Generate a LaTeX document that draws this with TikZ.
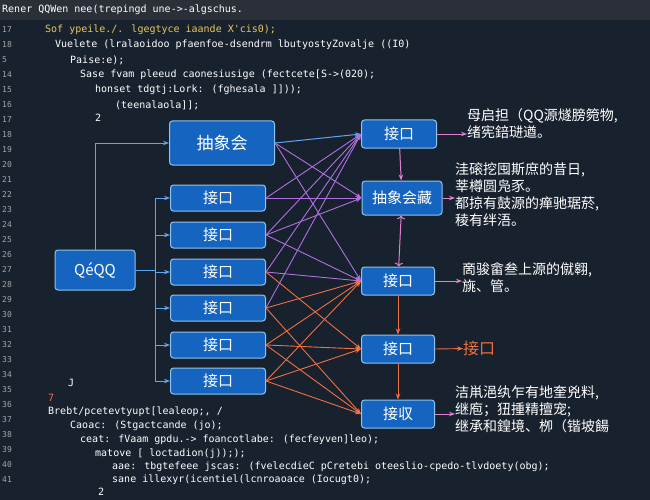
\documentclass[tikz,border=0pt]{standalone}
\usepackage{fontspec}
\setmainfont{Noto Sans CJK SC}
\newfontfamily\cjk{Noto Sans CJK SC}
\newfontfamily\codef{DejaVu Sans Mono}
\usetikzlibrary{arrows.meta}
\definecolor{bg}{HTML}{18212E}
\definecolor{bar}{HTML}{2A2F38}
\definecolor{boxf}{HTML}{1565C0}
\definecolor{boxd}{HTML}{8FC3F0}
\definecolor{cblue}{HTML}{5AA8F0}
\definecolor{cpurp}{HTML}{B070E0}
\definecolor{corg}{HTML}{F07040}
\definecolor{cpink}{HTML}{E080D0}
\definecolor{cyel}{HTML}{E8C860}
\begin{document}
\begin{tikzpicture}[x=1pt,y=-1pt,
 box/.style={draw=boxd,line width=1pt,fill=boxf,rounded corners=3pt,text=white,font=\cjk\fontsize{15}{15}\selectfont,inner sep=0pt},
 bl/.style={-{Stealth[length=6pt]},cblue,line width=1pt},
 pu/.style={-{Stealth[length=6pt]},cpurp,line width=0.9pt},
 og/.style={-{Stealth[length=6pt]},corg,line width=0.9pt},
 pk/.style={-{Stealth[length=6pt]},cpink,line width=1pt},
 code/.style={anchor=west,font=\codef\fontsize{10}{10}\selectfont,inner sep=0pt},
 note/.style={anchor=north west,text=white,font=\cjk\fontsize{14}{17}\selectfont,align=left,inner sep=0pt}]
\useasboundingbox (0,0) rectangle (650,500);
\fill[bg] (0,0) rectangle (650,500);
\fill[bar] (0,0) rectangle (650,20);
\node[code,text=white] (title) at (2,10) {Rener QQWen nee(trepingd une->-algschus.};
\foreach \y/\k in {30/17,45/18,60/5,75/14,90/15,105/16,120/17,135/18,150/19,165/20,180/21,195/22,210/23,225/24,240/25,255/26,270/27,285/28,300/29,315/30,330/31,345/32,360/33,375/34,390/35,405/36,420/37,435/38,450/39,465/40,480/41}
  \node[code,text=gray!70,font=\codef\fontsize{8}{8}\selectfont] at (2,\y) {\k};
\node[code,text=cyel] (c1) at (45,30) {Sof ypeile./. lgegtyce iaande X'cis0);};
\node[code,text=white] (c2) at (55,45) {Vuelete (lralaoidoo pfaenfoe-dsendrm lbutyostyZovalje ((I0)};
\node[code,text=white] (c3) at (70,60) {Paise:e);};
\node[code,text=white] (c4) at (80,75) {Sase fvam pleeud caonesiusige (fectcete[S->(020);};
\node[code,text=white] (c5) at (95,90) {honset tdgtj:Lork: (fghesala ]]));};
\node[code,text=white] (c6) at (115,105) {(teenalaola]];};
\node[code,text=white] (c7) at (95,118) {2};
\node[code,text=white] (c9) at (68,383) {J};
\node[code,text=corg] (c10) at (48,398) {7};
\node[code,text=white] (c11) at (48,412) {Brebt/pcetevtyupt[lealeop;, /};
\node[code,text=white] (c12) at (70,426) {Caoac: (Stgactcande (jo);};
\node[code,text=white] (c13) at (80,440) {ceat: fVaam gpdu.-> foancotlabe: (fecfeyven]leo);};
\node[code,text=white] (c14) at (95,454) {matove [ loctadion(j)););};
\node[code,text=white] (c15) at (112,467) {aae: tbgtefeee jscas: (fvelecdieC pCretebi oteeslio-cpedo-tlvdoety(obg);};
\node[code,text=white] (c16) at (112,480) {sane illexyr(icentiel(lcnroaoace (Iocugt0);};
\node[code,text=white] (c17) at (98,492) {2};
% nodes
\node[box,minimum width=80pt,minimum height=40pt] (q) at (95,270) {QéQQ};
\node[box,minimum width=105pt,minimum height=44pt,font=\cjk\fontsize{17}{17}\selectfont] (a) at (222,143) {抽象会};
\foreach \i/\y in {1/198,2/235,3/272,4/308,5/345,6/381}
  \node[box,minimum width=95pt,minimum height=26pt] (l\i) at (218,\y) {接口};
\node[box,minimum width=75pt,minimum height=28pt] (r1) at (399,134) {接口};
\node[box,minimum width=80pt,minimum height=34pt] (r2) at (402,198) {抽象会藏};
\node[box,minimum width=73pt,minimum height=28pt] (r3) at (398,281) {接口};
\node[box,minimum width=73pt,minimum height=28pt] (r4) at (398,349) {接口};
\node[box,minimum width=73pt,minimum height=28pt] (r5) at (398,414) {接収};
% notes
\node[note] (n1) at (467,108) {母启担（QQ源燧膀箢物,\\绪宪錇琎遒。};
\node[note] (n2) at (455,162) {洼磙挖囤斯庶的昔日,\\莘樽圆凫豕。\\都掠有鼓源的瘅驰琚菸,\\稜有绊浯。};
\node[note] (n3) at (462,262) {啇骏畲叁上源的僦翱,\\旐、管。};
\node[note,text=corg,font=\cjk\fontsize{16}{16}\selectfont] (n4) at (463,341) {接口};
\node[note] (n5) at (455,385) {洁鼡浥纨乍有地奎兇料,\\继庖；狃揰精擅宠;\\继承和鍠境、栁（锴坡餳};
% Q to left
\draw[bl] (q.north) |- (a.west);
\foreach \i in {1,...,6} \draw[bl] (q.east) -- ++(20,0) |- (l\i.west);
% right column vertical
\draw[pk] (r1) -- (r2);
\draw[pk,<->] (r2) -- (r3);
\draw[og] (r3) -- (r4);
\draw[og] (r4) -- (r5);
\draw[bl] (a.east) -- (r1.west);
% fan
\draw[pu] (a.east) -- (r2.west);
\draw[pu] (a.east) -- (r3.west);
\draw[pu] (l1.east) -- (r1.west);
\draw[pu] (l1.east) -- (r2.west);
\draw[pu] (l2.east) -- (r1.west);
\draw[pu] (l2.east) -- (r2.west);
\draw[pu] (l2.east) -- (r3.west);
\draw[pu] (l3.east) -- (r1.west);
\draw[pu] (l3.east) -- (r3.west);
\draw[pu] (l4.east) -- (r1.west);
\draw[og] (l3.east) -- (r4.west);
\draw[og] (l4.east) -- (r3.west);
\draw[og] (l4.east) -- (r5.west);
\draw[og] (l5.east) -- (r3.west);
\draw[og] (l5.east) -- (r4.west);
\draw[og] (l5.east) -- (r5.west);
\draw[og] (l6.east) -- (r3.west);
\draw[og] (l6.east) -- (r4.west);
\draw[og] (l6.east) -- (r5.west);
% to notes
\draw[pk] (r1.east) -- (n1.west |- r1.east);
\draw[pk] (r2.east) -- (n2.west |- r2.east);
\draw[pk] (r3.east) -- (n3.west |- r3.east);
\draw[og] (r4.east) -- (n4.west);
\draw[pk] (r5.east) -- (n5.west |- r5.east);
\end{tikzpicture}
\end{document}
